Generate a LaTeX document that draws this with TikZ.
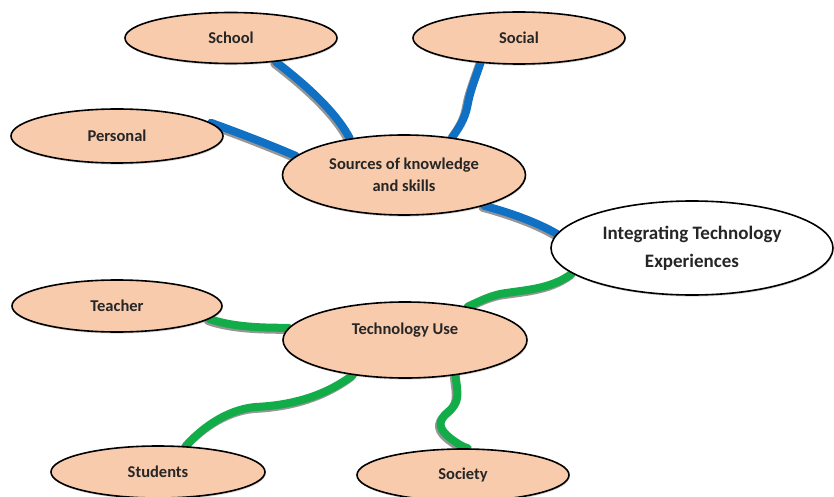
\documentclass[tikz,border=0pt]{standalone}
\usepackage{fontspec}
\setmainfont{Carlito}
\usetikzlibrary{shapes.geometric,shadows}

\definecolor{peach}{RGB}{248,203,173}
\definecolor{linkblue}{RGB}{16,112,196}
\definecolor{linkgreen}{RGB}{18,172,72}
\definecolor{wireshade}{RGB}{150,150,150}
\definecolor{ink}{RGB}{38,38,38}

\pgfdeclarelayer{wires}
\pgfsetlayers{wires,main}

\begin{document}
\begin{tikzpicture}[x=1pt,y=-1pt,
  bubble/.style={ellipse, draw=black, line width=1.6pt, fill=peach,
    inner sep=0pt, text=ink, align=center,
    font=\fontsize{16.5}{22}\selectfont\bfseries,
    drop shadow={shadow xshift=0.6pt, shadow yshift=-1.6pt, opacity=0.3}},
  hub/.style={bubble, fill=white, font=\fontsize{19}{28}\selectfont\bfseries},
  wire/.style={line width=8pt, line cap=round,
    preaction={draw=wireshade, line width=8pt, line cap=round,
      transform canvas={xshift=-1.6pt, yshift=-2pt}}},
  bluewire/.style={wire, draw=linkblue},
  greenwire/.style={wire, draw=linkgreen}]

\useasboundingbox (0,0) rectangle (834,497);
\clip (0,0) rectangle (834,497);

% central topic and the two branch heads
\node[hub, minimum width=282pt, minimum height=94pt] (integ) at (692,248)
  {Integrating Technology\\Experiences};
\node[bubble, minimum width=243pt, minimum height=80pt] (sources) at (404,175)
  {Sources of knowledge\\and skills};
\node[bubble, minimum width=244pt, minimum height=76pt, text depth=22pt] (tech) at (405,340)
  {Technology Use};

% leaves of the knowledge branch
\node[bubble, minimum width=212pt, minimum height=51pt] (school) at (231,38) {School};
\node[bubble, minimum width=212pt, minimum height=52pt] (social) at (519,38) {Social};
\node[bubble, minimum width=212pt, minimum height=54pt] (personal) at (117,136) {Personal};

% leaves of the technology branch
\node[bubble, minimum width=210pt, minimum height=52pt] (teacher) at (117,306) {Teacher};
\node[bubble, minimum width=214pt, minimum height=52pt] (students) at (158,472) {Students};
\node[bubble, minimum width=212pt, minimum height=52pt] (society) at (463,475) {Society};

\begin{pgfonlayer}{wires}
  % knowledge branch (blue)
  \draw[bluewire] (school.-28) .. controls (302,82) and (335,110) .. (sources.146);
  \draw[bluewire] (social.-147) .. controls (474,82) and (470,92) .. (468,103)
                  .. controls (466,115) and (462,124) .. (sources.38);
  \draw[bluewire] (personal.8) .. controls (250,137) and (275,147) .. (sources.170);
  \draw[bluewire] (sources.-21) .. controls (515,214) and (540,224) .. (integ.174);
  % technology branch (green)
  \draw[greenwire] (integ.-168) .. controls (550,290) and (522,290) .. (500,294)
                   .. controls (488,297) and (482,300) .. (tech.28);
  \draw[greenwire] (teacher.-8) .. controls (230,326) and (255,328) .. (tech.174);
  \draw[greenwire] (tech.-146) .. controls (330,392) and (300,405) .. (255,407)
                   .. controls (225,410) and (200,430) .. (students.43);
  \draw[greenwire] (tech.-35) .. controls (458,395) and (460,402) .. (448,412)
                   .. controls (436,422) and (440,430) .. (450,438)
                   .. controls (458,444) and (463,447) .. (society.80);
\end{pgfonlayer}
\end{tikzpicture}
\end{document}
